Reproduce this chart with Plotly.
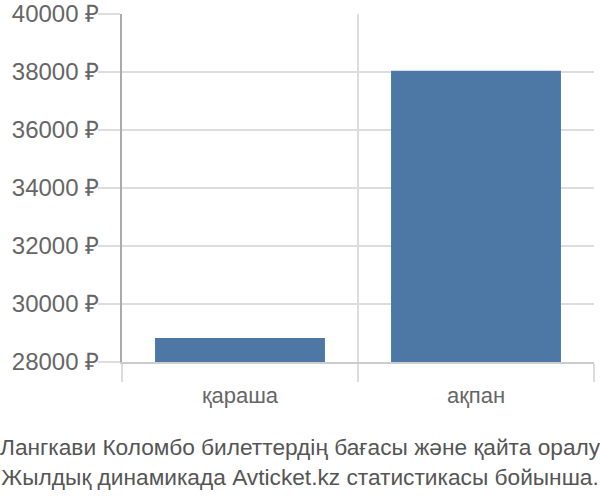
import plotly.graph_objects as go

months = ["қараша", "ақпан"]
prices = [28828, 38040]
y_ticks = [28000, 30000, 32000, 34000, 36000, 38000, 40000]

title_lines = [
    "Лангкави Коломбо билеттердің бағасы және қайта оралу",
    "Жылдық динамикада Avticket.kz статистикасы бойынша.",
]

fig = go.Figure()
fig.add_trace(go.Bar(
    x=months,
    y=[p - y_ticks[0] for p in prices],
    base=y_ticks[0],
    width=0.72,
    marker=dict(color="#4d78a6", line=dict(width=0)),
))

fig.update_layout(
    width=600, height=500,
    margin=dict(l=122, r=6, t=14, b=138),
    paper_bgcolor="white", plot_bgcolor="white",
    showlegend=False,
    font=dict(family="Liberation Sans, Arial, sans-serif", size=22, color="#666"),
)
fig.update_yaxes(
    range=[y_ticks[0], y_ticks[-1]],
    tickvals=y_ticks,
    ticktext=[f"{v} ₽" for v in y_ticks],
    tickfont=dict(size=24),
    ticklabeloverflow="allow",
    ticklabelstandoff=-6,
    automargin=False,
    ticks="outside", ticklen=22, tickcolor="#ddd", tickwidth=2,
    showgrid=True, gridcolor="#ddd", gridwidth=2,
    showline=True, linecolor="#aaa", linewidth=2,
    zeroline=False,
)
fig.update_xaxes(
    tickson="boundaries",
    tickfont=dict(size=22),
    ticklabelstandoff=13,
    automargin=False,
    ticks="outside", ticklen=18, tickcolor="#ddd", tickwidth=2,
    showgrid=True, gridcolor="#ddd", gridwidth=2,
    showline=True, linecolor="#ccc", linewidth=2,
)
fig.add_annotation(
    text="<br>".join(title_lines),
    xref="paper", yref="paper", x=0.5, y=-0.2,
    xanchor="center", yanchor="top", showarrow=False,
    font=dict(size=22.7, color="#555"),
    xshift=-58,
)

# drop the default 8px page margin so the figure fills the window
fig.write_html(
    "out.html",
    config={"displayModeBar": False},
    post_script="document.body.style.margin='0';",
)
